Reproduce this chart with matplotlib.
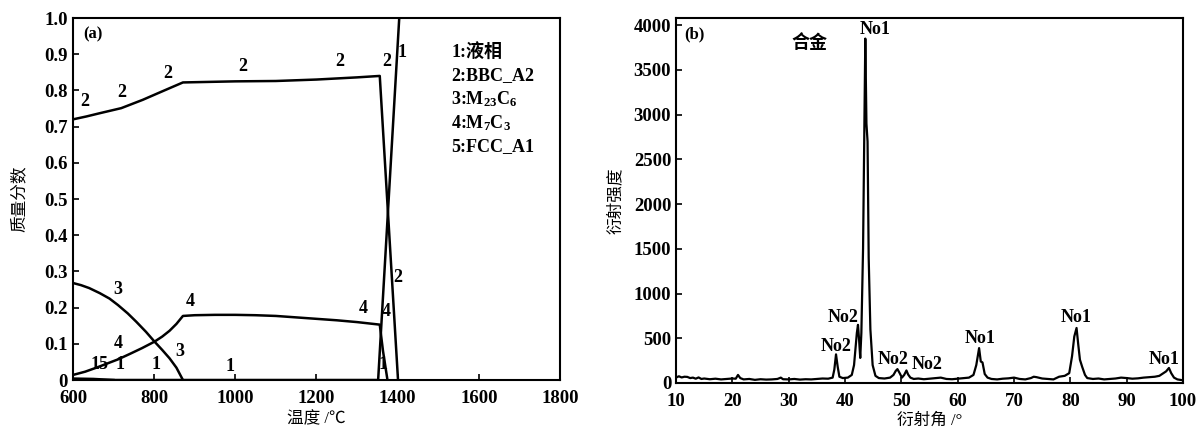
import matplotlib
matplotlib.use("Agg")
from matplotlib import pyplot as plt

plt.rcParams['font.family'] = ['Liberation Serif', 'Noto Sans CJK SC']
plt.rcParams['font.weight'] = 'bold'
plt.rcParams['mathtext.fontset'] = 'custom'
plt.rcParams['mathtext.rm'] = 'Liberation Serif:bold'
plt.rcParams['mathtext.default'] = 'rm'

# ---- (a) phase fractions vs temperature ----
t_bcc = [600, 633, 666, 719, 772, 811, 844, 871, 1000, 1100, 1200, 1300, 1356, 1401]
f_bcc = [0.72, 0.728, 0.737, 0.751, 0.774, 0.793, 0.809, 0.822, 0.825, 0.826, 0.830, 0.836, 0.840, 0.0]

t_liq = [600, 1352, 1365, 1378, 1391, 1404]
f_liq = [0.0, 0.0, 0.25, 0.5, 0.75, 1.0]

t_m23 = [600, 620, 640, 666, 690, 711, 735, 756, 780, 801, 820, 838, 855, 871]
f_m23 = [0.268, 0.262, 0.254, 0.24, 0.225, 0.207, 0.184, 0.161, 0.133, 0.106, 0.083, 0.06, 0.034, 0.0]

t_m7 = [600, 630, 660, 690, 711, 740, 770, 801, 820, 838, 855, 871, 900, 950, 1000, 1050,
        1100, 1150, 1200, 1250, 1300, 1356, 1364, 1375]
f_m7 = [0.014, 0.023, 0.035, 0.048, 0.057, 0.072, 0.088, 0.106, 0.12, 0.136, 0.155, 0.177, 0.179,
        0.18, 0.18, 0.179, 0.177, 0.173, 0.169, 0.165, 0.16, 0.153, 0.08, 0.0]

t_fcc = [600, 650, 700]
f_fcc = [0.004, 0.003, 0.0]

curve_labels = [
    ("2", 629, 0.747), ("2", 719, 0.77), ("2", 834, 0.822), ("2", 1019, 0.843),
    ("2", 1258, 0.857), ("2", 1373, 0.857), ("1", 1410, 0.88), ("2", 1401, 0.26),
    ("3", 711, 0.226), ("3", 863, 0.055), ("4", 888, 0.194), ("4", 711, 0.078),
    ("4", 1315, 0.175), ("4", 1373, 0.166), ("15", 666, 0.018), ("1", 715, 0.018),
    ("1", 805, 0.018), ("1", 986, 0.014), ("1", 1364, 0.018),
]
legend_lines = ["1:液相", "2:BBC_A2", "3:M$_{23}$C$_6$", "4:M$_7$C$_3$", "5:FCC_A1"]

# ---- (b) XRD pattern ----
xrd_angle = [10, 10.5, 11, 11.5, 12, 12.5, 13, 13.5, 14, 14.5, 15, 16, 17, 18, 19, 20, 20.6, 21, 21.4,
             22, 23, 24, 25, 26, 27, 28, 28.6, 29, 30, 31, 32, 33, 34, 35, 36, 37, 37.8, 38.1, 38.4,
             38.7, 39.0, 39.6, 40.5, 41.2, 41.6, 41.9, 42.1, 42.3, 42.5, 42.7, 42.9, 43.2, 43.6, 43.8,
             44.0, 44.2, 44.5, 44.9, 45.4, 46, 47, 48, 48.6, 49.0, 49.3, 49.7, 50.1, 50.5, 50.9, 51.2,
             51.6, 52.2, 53, 54, 55, 56, 57, 58, 59, 60, 61, 62, 62.8, 63.3, 63.8, 64.1, 64.4, 64.8,
             65.3, 66, 67, 68, 69, 70, 71, 72, 73, 73.5, 74, 75, 76, 77, 78, 79, 79.8, 80.3, 80.7,
             81.1, 81.4, 81.7, 82.1, 82.6, 83, 84, 85, 86, 87, 88, 89, 90, 91, 92, 93, 94, 95, 95.8,
             96.5, 97.0, 97.5, 97.9, 98.4, 99, 100]
xrd_int = [60, 75, 62, 70, 68, 55, 60, 48, 62, 45, 50, 42, 48, 40, 45, 50, 48, 90, 55,
           40, 45, 35, 42, 38, 40, 45, 60, 42, 40, 45, 38, 42, 40, 45, 50, 48, 60, 150, 320,
           180, 70, 55, 60, 90, 200, 420, 560, 650, 480, 280, 560, 1500, 3850, 2900,
           2700, 1400, 600, 200, 80, 55, 50, 60, 90, 135, 155, 110, 60, 90, 140, 95,
           60, 45, 50, 42, 48, 55, 60, 45, 42, 48, 55, 60, 90, 200, 390, 240, 230, 100,
           60, 45, 40, 48, 52, 60, 45, 40, 55, 70, 65, 50, 45, 40, 70, 80, 110, 300, 520,
           615, 430, 260, 180, 90, 55, 45, 50, 40, 45, 50, 60, 55, 48, 52, 60, 65, 70, 80,
           110, 130, 168, 110, 60, 40, 30]
xrd_labels = [
    ("No1", 45.3, 3950), ("No2", 39.7, 727), ("No2", 38.4, 410), ("No2", 48.6, 265),
    ("No2", 54.6, 205), ("No1", 63.9, 500), ("No1", 81.1, 727), ("No1", 96.6, 268),
]

fig = plt.figure(figsize=(11.98, 4.37), dpi=100)
ax1 = fig.add_axes([0.0609, 0.1304, 0.4065, 0.8284])
ax2 = fig.add_axes([0.5643, 0.1236, 0.4232, 0.8352])

lw = 1.8
ax1.plot(t_bcc, f_bcc, color="black", lw=lw)
ax1.plot(t_liq, f_liq, color="black", lw=lw)
ax1.plot(t_m23, f_m23, color="black", lw=lw)
ax1.plot(t_m7, f_m7, color="black", lw=lw)
ax1.plot(t_fcc, f_fcc, color="black", lw=lw)
for s, x, y in curve_labels:
    ax1.text(x, y, s, ha="center", va="bottom", fontsize=13)
for i, s in enumerate(legend_lines):
    ax1.text(0.777, 0.905 - i * 0.065, s, transform=ax1.transAxes, ha="left", va="center", fontsize=13)
ax1.text(0.022, 0.955, "(a)", transform=ax1.transAxes, ha="left", va="center", fontsize=12)

ax1.set_xlim(600, 1800)
ax1.set_ylim(0, 1.0)
ax1.set_xticks([600, 800, 1000, 1200, 1400, 1600, 1800])
ax1.set_yticks([0, 0.1, 0.2, 0.3, 0.4, 0.5, 0.6, 0.7, 0.8, 0.9, 1.0])
ax1.set_yticklabels(["0", "0.1", "0.2", "0.3", "0.4", "0.5", "0.6", "0.7", "0.8", "0.9", "1.0"])
ax1.set_xlabel("温度 /℃", fontsize=12, labelpad=3)
ax1.set_ylabel("质量分数", fontsize=12, labelpad=12)

ax2.plot(xrd_angle, xrd_int, color="black", lw=1.6)
for s, x, y in xrd_labels:
    ax2.text(x, y, s, ha="center", va="center", fontsize=13)
ax2.text(33.6, 3800, "合金", ha="center", va="center", fontsize=13)
ax2.text(0.016, 0.955, "(b)", transform=ax2.transAxes, ha="left", va="center", fontsize=12)
ax2.set_xlim(10, 100)
ax2.set_ylim(0, 4080)
ax2.set_xticks(range(10, 101, 10))
ax2.set_yticks(range(0, 4001, 500))
ax2.set_xlabel("衍射角 /°", fontsize=12, labelpad=2)
ax2.set_ylabel("衍射强度", fontsize=12, labelpad=7)

for ax in (ax1, ax2):
    ax.tick_params(direction="in", length=4, width=1.2, labelsize=13.5)
    ax.tick_params(axis="x", pad=7)
    for sp in ax.spines.values():
        sp.set_linewidth(1.5)

fig.savefig("out.png", dpi=100)
